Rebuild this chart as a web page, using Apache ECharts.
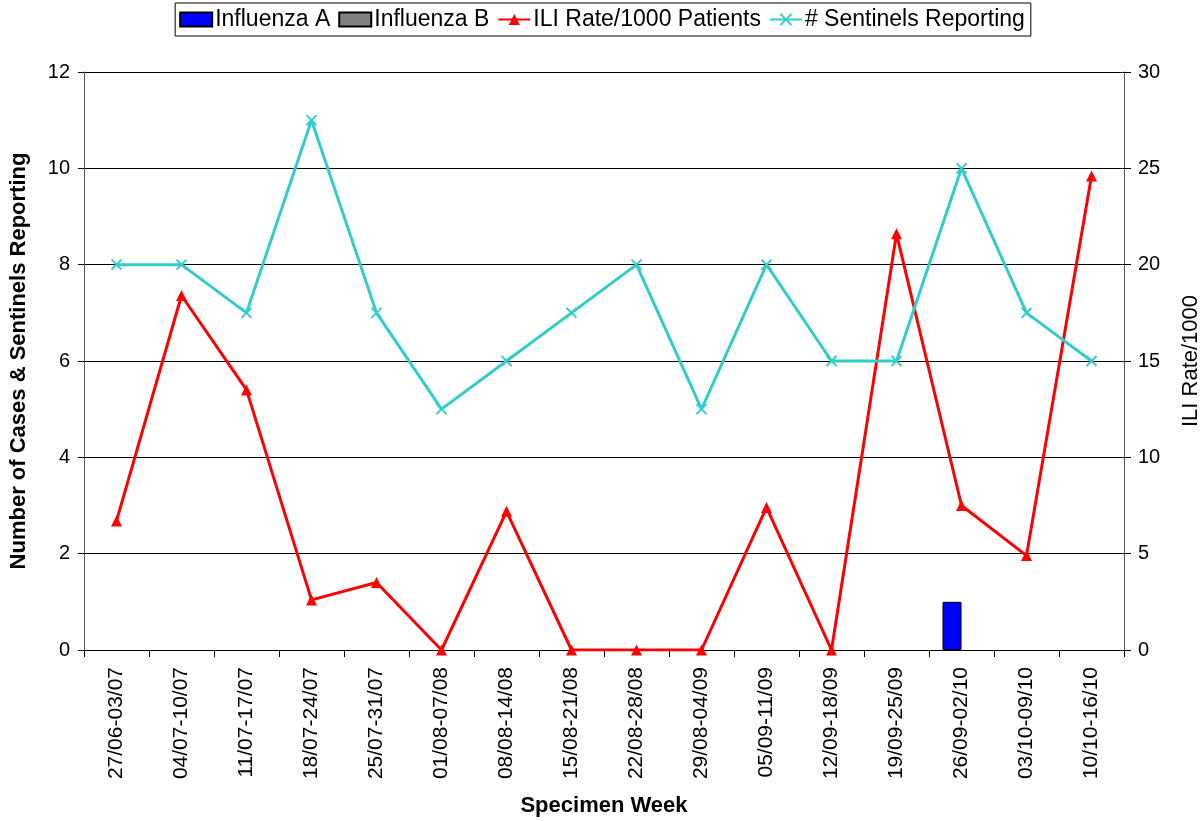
<!DOCTYPE html>
<html>
<head>
<meta charset="utf-8">
<script src="https://cdn.jsdelivr.net/npm/echarts@6/dist/echarts.min.js"></script>
<style>
  html, body { margin: 0; padding: 0; background: #fff; }
  #chart { width: 1204px; height: 821px; }
</style>
</head>
<body>
<div id="chart"></div>
<script>
// data
const weeks = ['27/06-03/07', '04/07-10/07', '11/07-17/07', '18/07-24/07', '25/07-31/07',
    '01/08-07/08', '08/08-14/08', '15/08-21/08', '22/08-28/08', '29/08-04/09',
    '05/09-11/09', '12/09-18/09', '19/09-25/09', '26/09-02/10', '03/10-09/10', '10/10-16/10']
const fluA = [0, 0, 0, 0, 0, 0, 0, 0, 0, 0, 0, 0, 0, 1, 0, 0]
const fluB = [0, 0, 0, 0, 0, 0, 0, 0, 0, 0, 0, 0, 0, 0, 0, 0]
const iliRate = [6.7, 18.4, 13.5, 2.6, 3.5, 0, 7.2, 0, 0, 0, 7.4, 0, 21.6, 7.5, 4.9, 24.6]
const sentinels = [8, 8, 7, 11, 7, 5, 6, 7, 8, 5, 8, 6, 6, 10, 7, 6]

const font = 'Liberation Sans, Arial, sans-serif'

// zero-height bars are not drawn in the original (no border line)
function hideZero(arr) {
    return arr.map(v => v === 0 ? '-' : v)
}

var myChart = echarts.init(document.getElementById('chart'))

var option = {
    backgroundColor: '#fff',
    animation: false,
    textStyle: { fontFamily: font, color: '#000' },
    legend: {
        top: 3,
        left: 'center',
        itemGap: 8,
        itemWidth: 32,
        itemHeight: 14,
        padding: [5, 6, 5, 4],
        borderColor: '#000',
        borderWidth: 1,
        textStyle: { fontFamily: font, fontSize: 23, color: '#000', padding: [0, 0, 0, -2] },
        data: [
            { name: 'Influenza A', icon: 'rect' },
            { name: 'Influenza B', icon: 'rect' },
            'ILI Rate/1000 Patients',
            '# Sentinels Reporting'
        ]
    },
    grid: { left: 84, right: 80, top: 72, bottom: 171, outerBoundsMode: 'none' },
    xAxis: {
        type: 'category',
        data: weeks,
        boundaryGap: true,
        name: 'Specimen Week',
        nameLocation: 'middle',
        nameGap: 145,
        nameTextStyle: { fontFamily: font, fontSize: 22, fontWeight: 'bold', color: '#000' },
        axisLine: { lineStyle: { color: '#000', width: 1 } },
        axisTick: { show: true, length: 7, interval: 0, lineStyle: { color: '#000' } },
        axisLabel: { rotate: 90, interval: 0, margin: 17, fontSize: 21, color: '#000', fontFamily: font },
        splitLine: { show: false }
    },
    yAxis: [{
        type: 'value',
        min: 0, max: 12, interval: 2,
        name: 'Number of Cases & Sentinels Reporting',
        nameLocation: 'middle',
        nameGap: 54,
        nameTextStyle: { fontFamily: font, fontSize: 22, fontWeight: 'bold', color: '#000' },
        axisLine: { show: true, lineStyle: { color: '#555' } },
        axisTick: { show: true, length: 6, lineStyle: { color: '#000' } },
        axisLabel: { fontSize: 20, color: '#000', fontFamily: font, margin: 14 },
        splitLine: { show: true, lineStyle: { color: '#000', width: 1 } }
    }, {
        type: 'value',
        min: 0, max: 30, interval: 5,
        name: 'ILI Rate/1000',
        nameLocation: 'middle',
        nameGap: 56,
        nameRotate: 90,
        nameTextStyle: { fontFamily: font, fontSize: 22, color: '#000' },
        axisLine: { show: true, lineStyle: { color: '#555' } },
        axisTick: { show: true, length: 7, lineStyle: { color: '#000' } },
        axisLabel: { fontSize: 20, color: '#000', fontFamily: font, margin: 14 },
        splitLine: { show: false }
    }],
    series: [{
        name: 'Influenza A',
        type: 'bar',
        data: hideZero(fluA),
        barWidth: 19,
        barGap: '0%',
        itemStyle: { color: '#0000ff', borderColor: '#000', borderWidth: 1 }
    }, {
        name: 'Influenza B',
        type: 'bar',
        data: hideZero(fluB),
        barWidth: 19,
        itemStyle: { color: '#808080', borderColor: '#000', borderWidth: 1 }
    }, {
        name: 'ILI Rate/1000 Patients',
        type: 'line',
        yAxisIndex: 1,
        data: iliRate,
        symbol: 'triangle',
        symbolSize: 11,
        lineStyle: { color: '#ff0000', width: 3 },
        itemStyle: { color: '#ff0000' }
    }, {
        name: '# Sentinels Reporting',
        type: 'line',
        data: sentinels,
        symbol: 'path://M0,0 L10,10 M10,0 L0,10',
        symbolSize: 10,
        lineStyle: { color: '#33cccc', width: 3 },
        itemStyle: { color: '#33cccc', borderColor: '#33cccc', borderWidth: 2 }
    }]
}

myChart.setOption(option)
</script>
</body>
</html>
